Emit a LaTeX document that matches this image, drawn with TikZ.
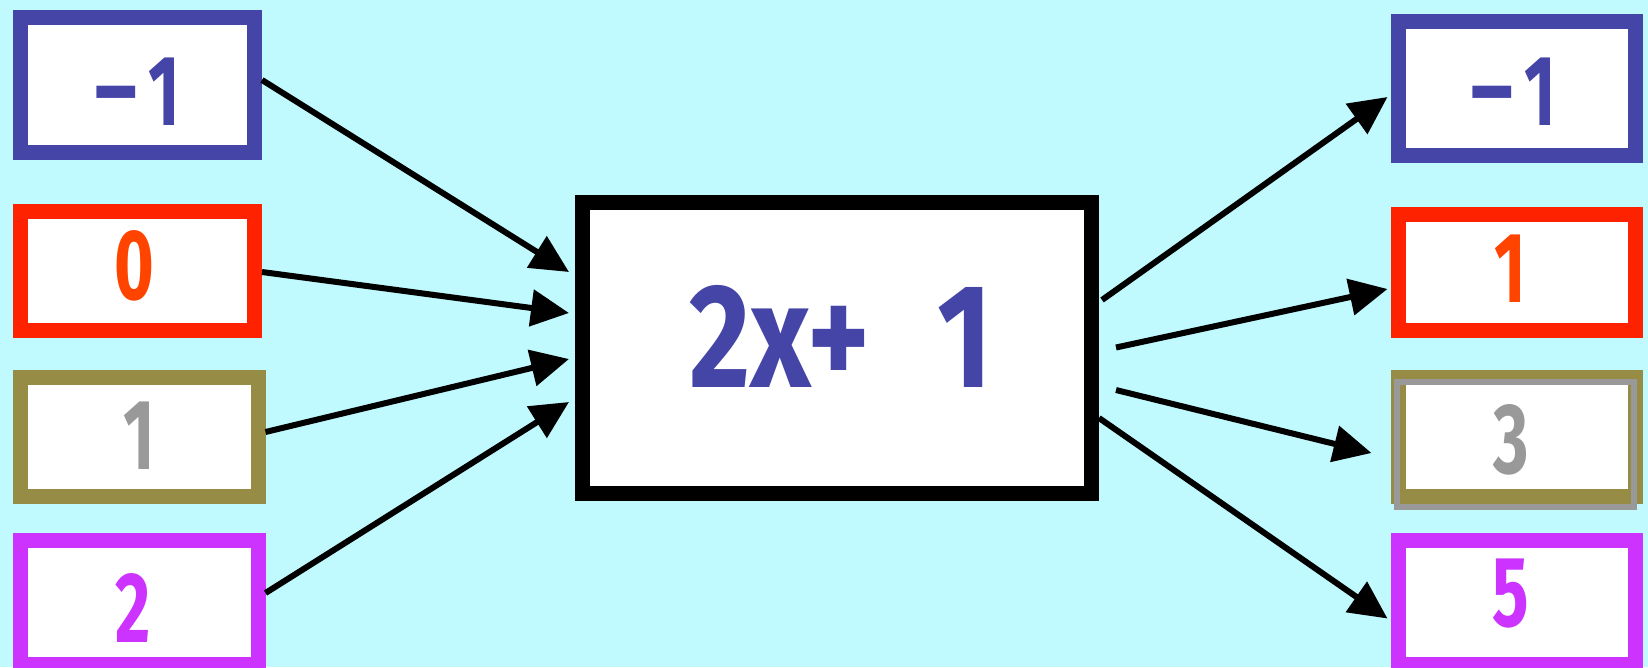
\documentclass[tikz,border=0pt]{standalone}
\usepackage{fontspec}
\newfontfamily\numfont{Fira Sans}[FakeStretch=0.68]
\newfontfamily\bignumfont{Fira Sans}[FakeStretch=0.8]
\usetikzlibrary{arrows.meta,calc}
\definecolor{bg}{HTML}{C0FAFF}
\definecolor{cblue}{HTML}{4545A8}
\definecolor{cred}{HTML}{FF2200}
\definecolor{cred2}{HTML}{FF4400}
\definecolor{colive}{HTML}{968C46}
\definecolor{cgray}{HTML}{999999}
\definecolor{cpurple}{HTML}{CC33FF}
\begin{document}
\begin{tikzpicture}[x=1pt,y=-1pt,
  box/.style={draw=#1, line width=15pt, fill=white, inner sep=0pt},
  num/.style={text=#1, inner sep=0pt, font=\numfont\bfseries\fontsize{100pt}{100pt}\selectfont},
  bignum/.style={text=cblue, inner sep=0pt, font=\bignumfont\bfseries\fontsize{148pt}{148pt}\selectfont},
  arr/.style={draw=black, line width=6pt, -{Triangle[length=38pt,width=36pt]}}]
\fill[bg] (0,0) rectangle (1648,667);
\useasboundingbox (0,0) rectangle (1648,667);
% left boxes
\node[box=cblue, minimum width=234pt, minimum height=134.5pt] (l1) at (137.5,84.75) {};
\node[box=cred, minimum width=234pt, minimum height=119pt] (l2) at (137.5,271) {};
\node[box=colive, minimum width=237.5pt, minimum height=119pt] (l3) at (139.25,436.5) {};
\node[box=cpurple, minimum width=237.5pt, minimum height=124pt] (l4) at (139.25,602) {};
% centre box
\node[box=black, minimum width=509pt, minimum height=291pt] (c) at (837,347.5) {};
% right boxes
\node[box=cblue, minimum width=237pt, minimum height=134pt] (r1) at (1516.5,88) {};
\node[box=cred, minimum width=237pt, minimum height=116pt] (r2) at (1516.5,272.5) {};
\node[box=colive, minimum width=237pt, minimum height=119pt] (r3) at (1516.5,436.5) {};
\node[box=cpurple, minimum width=237pt, minimum height=124pt] (r4) at (1516.5,602) {};
\draw[cgray, line width=6pt] (1397,382) rectangle (1633.5,506.5);
% texts
\node[num=cblue] (tl1) at (136,91.5) {\scalebox{1.35}[1]{−}\kern8pt 1};
\node[num=cred2] (tl2) at (134.5,266) {0};
\node[num=cgray] (tl3) at (139.5,435.5) {1};
\node[num=cpurple] (tl4) at (133,607.5) {2};
\node[bignum] (tc) at (841,336) {2x+\hspace{67pt}1};
\node[num=cblue] (tr1) at (1512.5,91.5) {\scalebox{1.35}[1]{−}\kern8pt 1};
\node[num=cred2] (tr2) at (1510.5,269) {1};
\node[num=cgray] (tr3) at (1511,440) {3};
\node[num=cpurple] (tr4) at (1511,594) {5};
% arrows in
\draw[arr] ([yshift=4.75pt]l1.east) -- ([xshift=-6pt,yshift=75.5pt]c.west);
\draw[arr] ([yshift=-1pt]l2.east) -- ([xshift=-6pt,yshift=34.5pt]c.west);
\draw[arr] ([yshift=4.5pt]l3.east) -- ([xshift=-6pt,yshift=-11.5pt]c.west);
\draw[arr] ([yshift=9pt]l4.east) -- ([xshift=-6pt,yshift=-54.5pt]c.west);
% arrows out
\draw[arr] ([xshift=3pt,yshift=47.5pt]c.east) -- ([xshift=-3pt,yshift=-9pt]r1.west);
\draw[arr] ([xshift=17pt]c.east) -- ([xshift=-3pt,yshift=-16.5pt]r2.west);
\draw[arr] ([xshift=17pt,yshift=-42.5pt]c.east) -- ([xshift=-19pt,yshift=-16.5pt]r3.west);
\draw[arr] ([yshift=-70.5pt]c.east) -- ([xshift=-3pt,yshift=-16.5pt]r4.west);
\end{tikzpicture}
\end{document}
